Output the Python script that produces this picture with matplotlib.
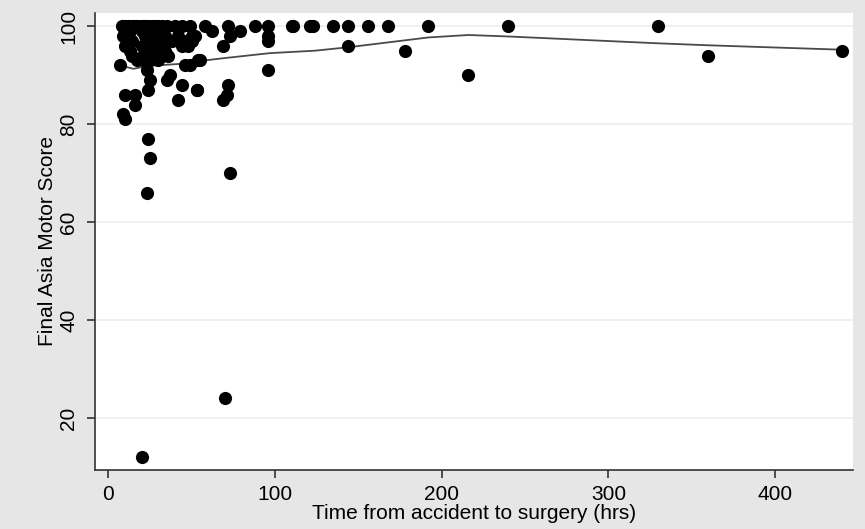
import matplotlib
matplotlib.use("Agg")
import matplotlib.pyplot as plt

plt.rcParams['font.family'] = ['Liberation Sans', 'DejaVu Sans']

# hours from accident to surgery vs final ASIA motor score
hours = [
    # dense cluster at 100
    8, 10, 12, 14, 16, 18, 20, 22, 24, 26, 28, 30, 32, 35, 40, 44, 49, 58, 62, 72, 79, 88, 96, 110,
    111, 121, 123, 135, 144, 156, 168, 192, 240, 330,
    # 93-99 band inside the cluster
    9, 13, 20, 27, 31, 12, 22, 25, 30, 34, 14, 23, 28, 33, 10, 20, 26, 31,
    13, 22, 27, 29, 34, 14, 21, 24, 32, 17, 21, 25, 30,
    42, 46, 52, 50, 50, 38, 36, 44, 48, 73, 69, 96, 96,
    # below the cluster
    7, 23, 25, 24, 10, 16, 16, 9, 10, 35, 37, 44, 53, 42, 46, 54, 55, 49, 53,
    72, 71, 69, 96, 144, 178, 216, 360, 440,
    # low outliers
    24, 25, 23, 73, 70, 20,
]
score = [
    100, 100, 100, 100, 100, 100, 100, 100, 100, 100, 100, 100, 100, 100, 100, 100, 100, 100, 99, 100, 99, 100, 100, 100,
    100, 100, 100, 100, 100, 100, 100, 100, 100, 100,
    98, 99, 99, 99, 99, 98, 98, 98, 98, 98, 97, 97, 97, 97, 96, 96, 96, 96,
    95, 95, 95, 95, 95, 94, 94, 94, 94, 93, 93, 93, 93,
    98, 97, 98, 98, 97, 97, 94, 96, 96, 98, 96, 98, 97,
    92, 91, 89, 87, 86, 86, 84, 82, 81, 89, 90, 88, 87, 85, 92, 93, 93, 92, 87,
    88, 86, 85, 91, 96, 95, 90, 94, 95,
    77, 73, 66, 70, 24, 12,
]

# smoothed (lowess) line
fit_x = [7, 15, 24, 43, 55, 70, 97, 124, 144, 192, 216, 240, 330, 360, 440]
fit_y = [92, 91.3, 91.9, 92.3, 92.9, 93.5, 94.5, 95.0, 95.7, 97.7, 98.2, 97.9, 96.5, 96.1, 95.2]

fig = plt.figure(figsize=(8.65, 5.29), dpi=100, facecolor='#e6e6e6')
ax = fig.add_axes([0.1098, 0.1115, 0.8762, 0.864])
ax.set_facecolor('white')

ax.scatter(hours, score, s=90, color='black', zorder=3, linewidths=0)
ax.plot(fit_x, fit_y, color='#4a4a4a', lw=1.3, zorder=2)

ax.set_xlim(-8, 446.7)
ax.set_ylim(9.4, 102.7)
ax.set_xticks([0, 100, 200, 300, 400])
ax.set_yticks([20, 40, 60, 80, 100])
ax.yaxis.grid(True, color='#ececec', lw=1.2)
ax.set_axisbelow(True)

for s in ['top', 'right']:
    ax.spines[s].set_visible(False)
for s in ['left', 'bottom']:
    ax.spines[s].set_color('#333333')
    ax.spines[s].set_linewidth(1.2)

ax.tick_params(length=6, width=1.2, color='#333333', labelsize=15)
ax.tick_params(axis='x', pad=5)
ax.tick_params(axis='y', pad=6)
plt.setp(ax.get_yticklabels(), rotation=90, va='center')

ax.set_xlabel('Time from accident to surgery (hrs)', fontsize=15, labelpad=0)
ax.set_ylabel('Final Asia Motor Score', fontsize=15, labelpad=2)

fig.savefig('out.png', dpi=100, facecolor=fig.get_facecolor())
